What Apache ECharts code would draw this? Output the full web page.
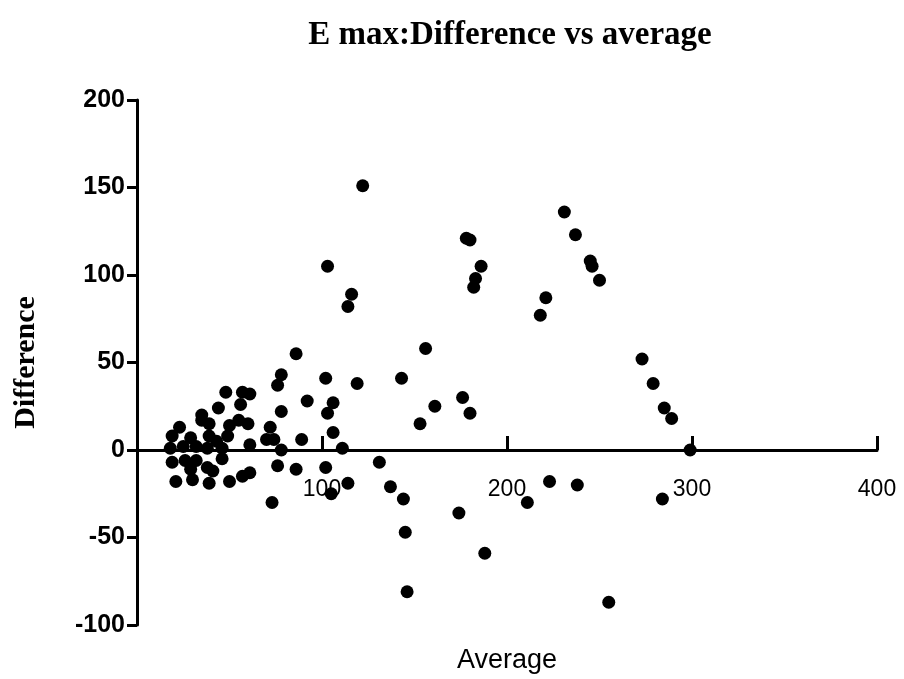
<!DOCTYPE html>
<html><head><meta charset="utf-8">
<script src="https://cdn.jsdelivr.net/npm/echarts@6/dist/echarts.min.js"></script>
<style>html,body{margin:0;background:#fff}#chart{width:904px;height:679px}</style>
</head><body><div id="chart"></div>
<script>
var avg = [78,76,48,57,61,56,44,35,35,39,55,60,50,49,23,19,29,39,43,18,25,32,38,46,61,72,70,74,78,
  19,26,32,29,38,41,21,30,39,50,57,61,46,76,86,73,78,92,89,102,106,103,106,111,102,105,114,119,86,
  122,103,116,114,131,137,143,144,145,146,156,153,161,176,174,180,178,180,182,183,186,188,211,218,221,223,
  231,237,238,245,246,250,255,273,279,285,289,284,299];
var diff = [43,37,33,33,32,26,24,20,17,15,17,15,14,8,13,8,7,8,5,1,2,2,1,1,3,13,6,6,0,
  -7,-6,-6,-11,-10,-12,-18,-17,-19,-18,-15,-13,-5,-9,-11,-30,22,28,6,41,27,21,10,1,-10,-25,-19,38,55,
  151,105,89,82,-7,-21,41,-28,-47,-81,58,15,25,30,-36,21,121,120,93,98,105,-59,-30,77,87,-18,
  136,123,-20,108,105,97,-87,52,38,24,18,-28,0];
var xTicks = [100, 200, 300, 400];
var yTicks = [-100, -50, 0, 50, 100, 150, 200];

var pts = [];
for (var i = 0; i < avg.length; i++) pts.push([avg[i], diff[i]]);

var chart = echarts.init(document.getElementById('chart'));
chart.setOption({
  animation: false,
  title: {
    text: 'E max:Difference vs average', left: 505, top: 14, textAlign: 'center',
    textStyle: {fontFamily: 'Liberation Serif', fontWeight: 'bold', fontSize: 33, color: '#000'}
  },
  grid: {left: 137, right: 27, top: 100, bottom: 54, outerBoundsMode: 'none', containLabel: false},
  xAxis: {
    type: 'value', min: 0, max: 400, interval: 100,
    offset: -175,
    name: 'Average', nameLocation: 'middle', nameGap: 197,
    nameTextStyle: {fontFamily: 'Liberation Sans', fontSize: 27, color: '#000'},
    axisLine: {onZero: false, lineStyle: {color: '#000', width: 3}},
    axisTick: {show: true, inside: true, length: 14, lineStyle: {color: '#000', width: 3}},
    axisLabel: {fontFamily: 'Liberation Sans', fontSize: 23, color: '#000', margin: 28,
      formatter: function (v) { return xTicks.indexOf(v) >= 0 ? v : ''; }},
    splitLine: {show: false}
  },
  yAxis: {
    type: 'value', min: -100, max: 200, interval: 50,
    name: 'Difference', nameLocation: 'middle', nameGap: 96,
    nameTextStyle: {fontFamily: 'Liberation Serif', fontWeight: 'bold', fontSize: 30, color: '#000'},
    axisLine: {onZero: false, lineStyle: {color: '#000', width: 3}},
    axisTick: {show: true, length: 10, lineStyle: {color: '#000', width: 3}},
    axisLabel: {fontFamily: 'Liberation Sans', fontWeight: 'bold', fontSize: 25, color: '#000', margin: 12,
      formatter: function (v) { return yTicks.indexOf(v) >= 0 ? v : ''; }},
    splitLine: {show: false}
  },
  series: [{
    type: 'scatter', data: pts, symbolSize: 13,
    itemStyle: {color: '#000', opacity: 1}
  }]
});
</script></body></html>
